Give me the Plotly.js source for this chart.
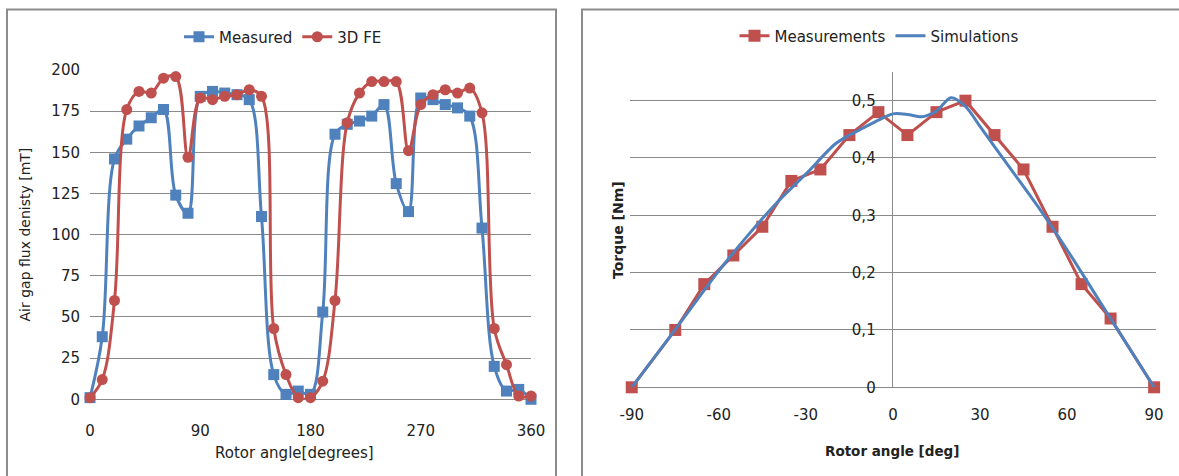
<!DOCTYPE html>
<html><head><meta charset="utf-8">
<script src="https://cdn.plot.ly/plotly-3.0.1.min.js"></script>
<style>html,body{margin:0;padding:0;background:#fff}#chart{width:1179px;height:476px}</style>
</head><body><div id="chart"></div>
<script>
// ---- Left chart: air gap flux density ----
const fluxAngles = [0,10,20,30,40,50,60,70,80,90,100,110,120,130,140,150,160,170,180,190,200,210,220,230,240,250,260,270,280,290,300,310,320,330,340,350,360];
const measuredFlux = [1,38,146,158,166,171,176,124,113,184,187,186,185,182,111,15,3,5,3,53,161,167,169,172,179,131,114,183,182,179,177,172,104,20,5,6,0];
const feFlux = [1,12,60,176,187,186,195,196,147,183,182,184,185,188,184,43,15,1,1,11,60,168,186,193,193,193,151,179,185,188,186,189,174,43,21,2,2];
const fluxTickVals = [0,25,50,75,100,125,150,175,200];
const angleTickVals = [0,90,180,270,360];

// ---- Right chart: torque ----
const measAngles = [-90,-75,-65,-55,-45,-35,-25,-15,-5,5,15,25,35,45,55,65,75,90];
const measTorque = [0,0.10,0.18,0.23,0.28,0.36,0.38,0.44,0.48,0.44,0.48,0.50,0.44,0.38,0.28,0.18,0.12,0];
const simAngles = [-90,-80,-70,-60,-50,-40,-30,-20,-15,-10,-5,0,5,10,15,20,25,30,40,50,60,70,80,90];
const simTorque = [0,0.067,0.135,0.203,0.265,0.322,0.372,0.424,0.44,0.453,0.466,0.477,0.476,0.472,0.482,0.505,0.49,0.455,0.385,0.315,0.24,0.16,0.08,0];
const torqueTickVals = [0,0.1,0.2,0.3,0.4,0.5];
const torqueTickText = ['0','0,1','0,2','0,3','0,4','0,5'];
const torqueAngleTicks = [-90,-60,-30,0,30,60,90];
const torqueAngleText = ['-90','-60','-30','0','30','60','90'];

const BLUE = '#4F81BD', RED = '#C0504D', GRID = '#8a8a8a', FRAME = '#8c8c8c';
const FONT = 'DejaVu Sans';
const W = 1179, H = 476;
const px = v => v / W, py = v => 1 - v / H;

const traces = [
  {x: fluxAngles, y: measuredFlux, name: 'Measured', type: 'scatter', mode: 'lines+markers', cliponaxis: false,
   line: {color: BLUE, width: 3, shape: 'spline', smoothing: 1}, marker: {symbol: 'square', size: 11, color: BLUE},
   xaxis: 'x', yaxis: 'y', legend: 'legend'},
  {x: fluxAngles, y: feFlux, name: '3D FE', type: 'scatter', mode: 'lines+markers', cliponaxis: false,
   line: {color: RED, width: 3, shape: 'spline', smoothing: 1}, marker: {symbol: 'circle', size: 11, color: RED},
   xaxis: 'x', yaxis: 'y', legend: 'legend'},
  {x: measAngles, y: measTorque, name: 'Measurements', type: 'scatter', mode: 'lines+markers', cliponaxis: false,
   line: {color: RED, width: 3}, marker: {symbol: 'square', size: 12, color: RED},
   xaxis: 'x2', yaxis: 'y2', legend: 'legend2'},
  {x: simAngles, y: simTorque, name: 'Simulations', type: 'scatter', mode: 'lines', cliponaxis: false,
   line: {color: BLUE, width: 3, shape: 'spline', smoothing: 0.8},
   xaxis: 'x2', yaxis: 'y2', legend: 'legend2'}
];

const tickFont = {family: FONT, size: 15, color: '#222'};
const layout = {
  width: W, height: H, margin: {l: 0, r: 0, t: 0, b: 0},
  paper_bgcolor: '#fff', plot_bgcolor: 'rgba(0,0,0,0)',
  font: {family: FONT, size: 15, color: '#222'},
  showlegend: true,
  xaxis: {domain: [px(90), px(531)], range: [0, 360], tickvals: angleTickVals, showgrid: false, zeroline: false,
          showline: false, ticks: 'outside', ticklen: 18, tickcolor: 'rgba(0,0,0,0)', tickfont: tickFont, anchor: 'y'},
  yaxis: {domain: [py(399.3), py(70)], range: [0, 200], tickvals: fluxTickVals, showgrid: true, gridcolor: GRID, gridwidth: 1,
          zeroline: true, zerolinecolor: GRID, zerolinewidth: 1, showline: false, ticks: 'outside', ticklen: 6,
          tickcolor: 'rgba(0,0,0,0)', tickfont: tickFont, anchor: 'x'},
  xaxis2: {domain: [px(630), px(1156)], range: [-90.6, 90.65], tickvals: torqueAngleTicks, ticktext: torqueAngleText,
           showgrid: false, zeroline: true, zerolinecolor: GRID, zerolinewidth: 1, showline: false, ticks: 'outside', ticklen: 14,
           tickcolor: 'rgba(0,0,0,0)', tickfont: tickFont, anchor: 'y2'},
  yaxis2: {domain: [py(387.3), py(72)], range: [0, 0.55], tickvals: torqueTickVals, ticktext: torqueTickText,
           showgrid: true, gridcolor: GRID, gridwidth: 1, zeroline: true, zerolinecolor: GRID, zerolinewidth: 1,
           showline: false, anchor: 'free', position: px(892.7), ticks: 'outside', ticklen: 14,
           tickcolor: 'rgba(0,0,0,0)', tickfont: tickFont},
  legend: {orientation: 'h', x: px(283), xanchor: 'center', y: py(37), yanchor: 'middle',
           font: {family: FONT, size: 15, color: '#222'}, bgcolor: 'rgba(0,0,0,0)', itemwidth: 30},
  legend2: {orientation: 'h', x: px(879), xanchor: 'center', y: py(36), yanchor: 'middle',
           font: {family: FONT, size: 15, color: '#222'}, bgcolor: 'rgba(0,0,0,0)', itemwidth: 30},
  shapes: [
    {type: 'rect', xref: 'paper', yref: 'paper', x0: px(7), x1: px(556), y0: -0.2, y1: py(9.5), line: {color: FRAME, width: 2}},
    {type: 'rect', xref: 'paper', yref: 'paper', x0: px(582), x1: 1.2, y0: -0.2, y1: py(9.5), line: {color: FRAME, width: 2}}
  ],
  annotations: [
    {text: 'Air gap flux denisty [mT]', xref: 'paper', yref: 'paper', x: px(24.5), y: py(235), textangle: -90,
     showarrow: false, xanchor: 'center', yanchor: 'middle', font: {family: FONT, size: 14, color: '#222'}},
    {text: 'Rotor angle[degrees]', xref: 'paper', yref: 'paper', x: px(294.5), y: py(453), showarrow: false,
     xanchor: 'center', yanchor: 'middle', font: {family: FONT, size: 15, color: '#222'}},
    {text: '<b>Torque [Nm]</b>', xref: 'paper', yref: 'paper', x: px(618), y: py(230), textangle: -90,
     showarrow: false, xanchor: 'center', yanchor: 'middle', font: {family: FONT, size: 14, color: '#222'}},
    {text: '<b>Rotor angle [deg]</b>', xref: 'paper', yref: 'paper', x: px(892), y: py(451), showarrow: false,
     xanchor: 'center', yanchor: 'middle', font: {family: FONT, size: 13.5, color: '#222'}}
  ]
};
Plotly.newPlot('chart', traces, layout, {staticPlot: true, displayModeBar: false});
</script>
</body></html>
